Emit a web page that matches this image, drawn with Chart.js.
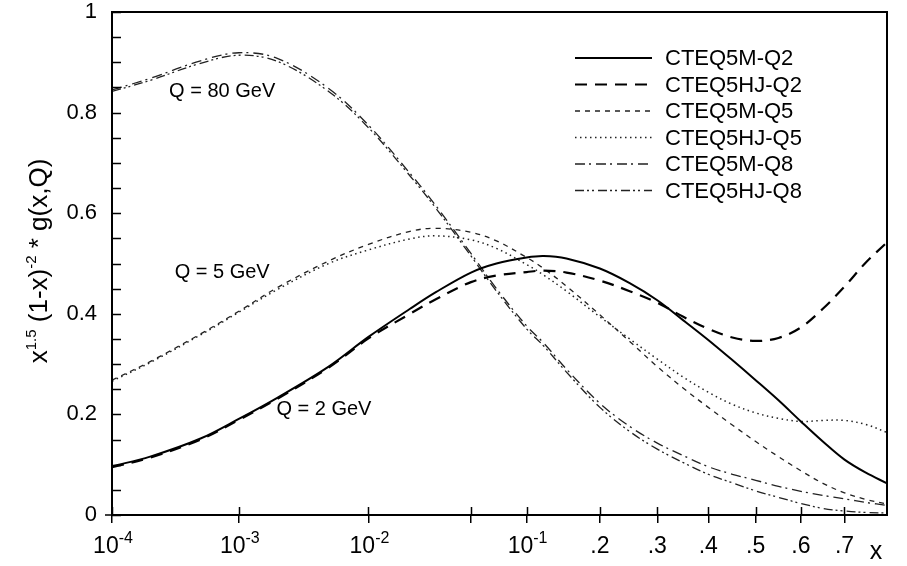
<!DOCTYPE html>
<html>
<head>
<meta charset="utf-8">
<script src="https://cdn.jsdelivr.net/npm/chart.js@4.4.1/dist/chart.umd.min.js"></script>
<style>
  html, body { margin: 0; padding: 0; background: #fff; }
  #wrap { width: 907px; height: 566px; }
</style>
</head>
<body>
<div id="wrap"><canvas id="grafico" width="907" height="566"></canvas></div>
<script>
const xValues = [1e-4, 2e-4, 5e-4, 1e-3, 2e-3, 5e-3, 1e-2, 2e-2, 3e-2, 5e-2, 7e-2, 0.1, 0.12, 0.15,
                 0.2, 0.25, 0.3, 0.35, 0.4, 0.45, 0.5, 0.55, 0.6, 0.65, 0.7, 0.75, 0.8];

const q2M  = [0.097, 0.116, 0.152, 0.191, 0.233, 0.295, 0.354, 0.410, 0.443, 0.482, 0.500, 0.512, 0.515, 0.510,
              0.490, 0.461, 0.427, 0.387, 0.348, 0.308, 0.268, 0.228, 0.186, 0.146, 0.110, 0.084, 0.063];
const q2HJ = [0.095, 0.114, 0.150, 0.189, 0.231, 0.293, 0.351, 0.400, 0.429, 0.463, 0.476, 0.483, 0.486, 0.482,
              0.466, 0.445, 0.422, 0.394, 0.370, 0.353, 0.346, 0.352, 0.373, 0.410, 0.454, 0.502, 0.542];
const q5M  = [0.268, 0.305, 0.360, 0.405, 0.452, 0.505, 0.538, 0.564, 0.570, 0.562, 0.545, 0.512, 0.490, 0.455,
              0.398, 0.345, 0.295, 0.252, 0.214, 0.179, 0.146, 0.116, 0.088, 0.063, 0.044, 0.031, 0.022];
const q5HJ = [0.266, 0.303, 0.358, 0.403, 0.448, 0.500, 0.527, 0.549, 0.555, 0.547, 0.530, 0.498, 0.477, 0.445,
              0.394, 0.350, 0.310, 0.274, 0.244, 0.220, 0.203, 0.192, 0.186, 0.188, 0.188, 0.180, 0.164];
const q8M  = [0.845, 0.868, 0.903, 0.919, 0.908, 0.848, 0.775, 0.679, 0.615, 0.520, 0.450, 0.376, 0.342, 0.290,
              0.222, 0.176, 0.143, 0.118, 0.096, 0.081, 0.069, 0.057, 0.047, 0.039, 0.032, 0.025, 0.019];
const q8HJ = [0.842, 0.864, 0.898, 0.914, 0.902, 0.842, 0.770, 0.674, 0.610, 0.515, 0.445, 0.370, 0.336, 0.284,
              0.214, 0.166, 0.131, 0.104, 0.081, 0.064, 0.048, 0.035, 0.023, 0.013, 0.008, 0.005, 0.004];

const seriesNames = ['CTEQ5M-Q2', 'CTEQ5HJ-Q2', 'CTEQ5M-Q5', 'CTEQ5HJ-Q5', 'CTEQ5M-Q8', 'CTEQ5HJ-Q8'];

// '^' marks the start of a superscript
const xTickValues = [1e-4, 1e-3, 1e-2, 0.05, 0.1, 0.2, 0.3, 0.4, 0.5, 0.6, 0.7];
const xTickLabels = ['10^-4', '10^-3', '10^-2', '', '10^-1', '.2', '.3', '.4', '.5', '.6', '.7'];
const yTickValues = [0, 0.2, 0.4, 0.6, 0.8, 1];
const yTickLabels = ['0', '0.2', '0.4', '0.6', '0.8', '1'];

const curveLabels = ['Q = 80 GeV', 'Q = 5 GeV', 'Q = 2 GeV'];
const curveLabelX = [7.4e-4, 7.4e-4, 4.6e-3];
const curveLabelY = [0.841, 0.483, 0.209];

const FONT = '"Liberation Sans", Arial, "DejaVu Sans", sans-serif';

// log at small x, close to linear at large x
function warp(x) { return Math.log10(x) + 2.78 * x; }

class LogLinScale extends Chart.Scale {
    parse(raw) { return +raw; }
    determineDataLimits() {
        this.min = this.options.min;
        this.max = this.options.max;
    }
    buildTicks() {
        return xTickValues.map(v => ({ value: v }));
    }
    configure() {
        super.configure();
        this._wMin = warp(this.min);
        this._wMax = warp(this.max);
    }
    getLabelForValue(v) { return String(v); }
    getPixelForTick(i) { return this.getPixelForValue(this.ticks[i].value); }
    getPixelForValue(v) {
        return this.getPixelForDecimal((warp(v) - this._wMin) / (this._wMax - this._wMin));
    }
    getValueForPixel(p) {
        const target = this._wMin + this.getDecimalForPixel(p) * (this._wMax - this._wMin);
        let lo = Math.log10(this.min), hi = Math.log10(this.max);
        for (let k = 0; k < 50; k++) {
            const mid = (lo + hi) / 2;
            if (warp(Math.pow(10, mid)) < target) lo = mid; else hi = mid;
        }
        return Math.pow(10, (lo + hi) / 2);
    }
}
LogLinScale.id = 'loglin';
LogLinScale.defaults = {};
Chart.register(LogLinScale);

// text runs centred on x, superscripts raised by 'rise'
function drawRich(ctx, parts, x, y, rise) {
    let w = 0;
    parts.forEach(p => { ctx.font = p.size + 'px ' + FONT; w += ctx.measureText(p.t).width; });
    let cx = x - w / 2;
    parts.forEach(p => {
        ctx.font = p.size + 'px ' + FONT;
        ctx.fillText(p.t, cx, y - (p.sup ? rise : 0));
        cx += ctx.measureText(p.t).width;
    });
}

const overlay = {
    id: 'overlay',
    afterDraw(chart) {
        const { ctx, chartArea: a, scales } = chart;
        const sx = scales.x, sy = scales.y;
        ctx.save();
        ctx.strokeStyle = '#000';
        ctx.fillStyle = '#000';
        ctx.lineWidth = 2;
        ctx.strokeRect(a.left, a.top, a.right - a.left, a.bottom - a.top);

        ctx.lineWidth = 1.5;
        ctx.beginPath();
        sx.ticks.forEach((t, i) => {
            const px = Math.round(sx.getPixelForTick(i)) + 0.5;
            ctx.moveTo(px, a.bottom - 8); ctx.lineTo(px, a.bottom);
        });
        sy.ticks.forEach((t, i) => {
            const py = Math.round(sy.getPixelForTick(i)) + 0.5;
            ctx.moveTo(a.left, py); ctx.lineTo(a.left + 9, py);
        });
        ctx.moveTo(a.left - 7, a.bottom); ctx.lineTo(a.left, a.bottom);
        ctx.stroke();

        // x tick labels with superscripts
        ctx.textAlign = 'left';
        ctx.textBaseline = 'alphabetic';
        sx.ticks.forEach((t, i) => {
            const s = xTickLabels[i];
            if (!s) return;
            const bits = s.split('^');
            const parts = [{ t: bits[0], size: 23 }];
            if (bits[1]) parts.push({ t: bits[1], size: 16, sup: true });
            drawRich(ctx, parts, sx.getPixelForTick(i) + (bits[1] ? 1 : 0), 553, 10);
        });

        // legend
        ctx.textBaseline = 'middle';
        ctx.font = '22px ' + FONT;
        chart.data.datasets.forEach((ds, i) => {
            const ly = 58 + i * 26.5;
            ctx.save();
            ctx.strokeStyle = ds.borderColor;
            ctx.lineWidth = ds.borderWidth;
            ctx.setLineDash(ds.borderDash || []);
            ctx.beginPath();
            ctx.moveTo(575, ly); ctx.lineTo(652, ly);
            ctx.stroke();
            ctx.restore();
            ctx.fillText(ds.label, 665, ly + 1);
        });

        // curve labels
        ctx.textAlign = 'center';
        ctx.font = '20px ' + FONT;
        curveLabels.forEach((t, i) => {
            ctx.fillText(t, sx.getPixelForValue(curveLabelX[i]), sy.getPixelForValue(curveLabelY[i]));
        });

        // axis titles
        ctx.font = '25px ' + FONT;
        ctx.fillText('x', 876, 552);

        ctx.save();
        ctx.translate(39, 261);
        ctx.rotate(-Math.PI / 2);
        ctx.textAlign = 'left';
        ctx.textBaseline = 'alphabetic';
        drawRich(ctx, [
            { t: 'x', size: 26 },
            { t: '1.5', size: 15, sup: true },
            { t: ' (1-x)', size: 26 },
            { t: '-2', size: 15, sup: true },
            { t: ' * g(x,Q)', size: 26 }
        ], 0, 8, 11);
        ctx.restore();
        ctx.restore();
    }
};

const allSeries = [q2M, q2HJ, q5M, q5HJ, q8M, q8HJ];
const dashes = [[], [12, 8], [5, 5], [1.5, 3.5], [10, 4, 2, 5], [9, 3, 2, 3, 2, 4]];
const widths = [2, 2.2, 1.3, 1.5, 1.3, 1.3];
const colors = ['#000', '#000', '#222', '#222', '#222', '#222'];

window.onload = function () {
    const ctx = document.getElementById('grafico').getContext('2d');
    const grafico = new Chart(ctx, {
        type: 'line',
        data: {
            datasets: allSeries.map((s, k) => ({
                label: seriesNames[k],
                data: xValues.map((x, i) => ({ x: x, y: s[i] })),
                borderColor: colors[k],
                borderWidth: widths[k],
                borderDash: dashes[k],
                pointRadius: 0,
                fill: false,
                tension: 0.35
            }))
        },
        options: {
            responsive: false,
            animation: false,
            events: [],
            layout: { padding: { left: 0, top: 12, right: 20, bottom: 0 } },
            plugins: { legend: { display: false }, tooltip: { enabled: false } },
            scales: {
                x: {
                    type: 'loglin',
                    min: 1e-4,
                    max: 0.8,
                    afterFit: s => { s.height = 51; s.paddingLeft = 0; s.paddingRight = 0; },
                    border: { display: true, color: '#000', width: 2 },
                    grid: { drawOnChartArea: false, drawTicks: true, tickLength: 8, color: '#000', lineWidth: 1.5 },
                    ticks: {
                        autoSkip: false, maxRotation: 0, color: '#000',
                        font: { family: FONT, size: 23 },
                        callback: () => ''   // drawn by the overlay plugin, with superscripts
                    }
                },
                y: {
                    min: 0,
                    max: 1,
                    afterFit: s => { s.width = 112; s.paddingTop = 0; s.paddingBottom = 0; },
                    border: { display: true, color: '#000', width: 2 },
                    grid: { drawOnChartArea: false, drawTicks: false },
                    ticks: {
                        stepSize: 0.05, padding: 15, color: '#000',
                        font: { family: FONT, size: 22, lineHeight: 1 },
                        callback: v => {
                            const k = yTickValues.findIndex(t => Math.abs(t - v) < 1e-6);
                            return k >= 0 ? yTickLabels[k] : '';
                        }
                    }
                }
            }
        },
        plugins: [overlay]
    });
};
</script>
</body>
</html>
